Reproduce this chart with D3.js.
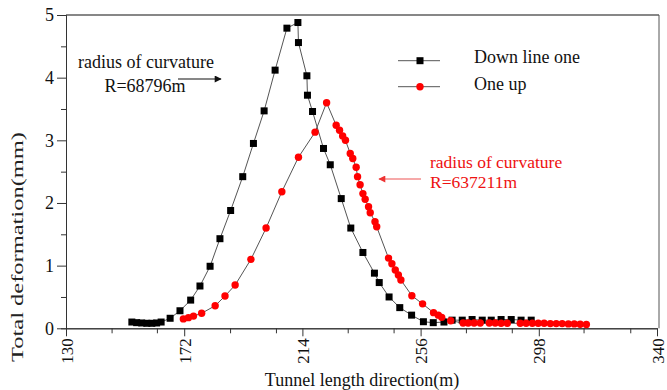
<!DOCTYPE html>
<html>
<head>
<meta charset="utf-8">
<script src="https://cdn.jsdelivr.net/npm/d3@7/dist/d3.min.js"></script>
<style>
  html, body { margin: 0; padding: 0; background: #fff; }
  svg { display: block; font-family: "Liberation Serif", "Times New Roman", serif; }
</style>
</head>
<body>
<svg id="chart" width="667" height="390"></svg>
<script>
// Tunnel length position (m) and total deformation (mm) for each survey line
const downX = [153.4,155.1,156.9,158.7,160.5,162.2,163.8,167.0,170.5,174.3,177.6,181.2,184.7,188.5,192.8,196.6,200.4,204.3,208.5,212.4,212.6,215.6,215.8,217.6,221.5,223.9,227.8,231.2,235.5,239.6,241.3,244.8,248.6,252.8,257.0,260.5,264.3,267.2,270.8,274.3,277.9,281.1,284.6,288.2,291.7,295.3];
const downY = [0.10,0.09,0.085,0.08,0.08,0.085,0.10,0.16,0.28,0.45,0.675,0.99,1.43,1.88,2.42,2.95,3.47,4.12,4.79,4.88,4.56,4.03,3.72,3.46,2.87,2.61,2.07,1.60,1.21,0.88,0.73,0.50,0.33,0.21,0.105,0.09,0.10,0.13,0.13,0.14,0.13,0.13,0.14,0.14,0.13,0.13];

const upX = [171.7,173.5,175.3,178.2,183.0,186.5,190.1,195.7,201.1,206.7,212.6,218.5,222.6,226.0,227.2,228.3,229.3,231.0,231.9,233.1,233.6,234.5,235.5,236.3,237.5,238.1,239.8,240.4,244.6,245.8,247.0,248.1,249.0,252.9,256.7,260.6,262.3,263.5,266.7,271.1,272.9,275.0,277.2,280.4,282.5,284.6,286.8,291.4,293.5,295.7,297.8,299.9,302.1,304.2,306.3,308.5,310.6,312.7,314.9];
const upY = [0.15,0.17,0.195,0.24,0.36,0.515,0.69,1.10,1.60,2.18,2.73,3.13,3.60,3.24,3.16,3.07,3.00,2.79,2.71,2.57,2.42,2.29,2.15,2.06,1.94,1.845,1.70,1.62,1.12,1.03,0.93,0.85,0.77,0.52,0.39,0.25,0.21,0.175,0.12,0.085,0.085,0.085,0.085,0.085,0.085,0.08,0.08,0.08,0.08,0.08,0.08,0.08,0.075,0.075,0.075,0.07,0.07,0.065,0.06];

const seriesNames = ["Down line one", "One up"];
const xTicks = [130, 172, 214, 256, 298, 340];
const xMinorTicks = [146.2, 162.3, 188.3, 204.6, 230.1, 246.4, 272.1, 288.4, 313.9, 330.5];
const yTicks = [0, 1, 2, 3, 4, 5];
const yMinorTicks = [0.5, 1.5, 2.5, 3.5, 4.5];
const notes = [
  { lines: ["radius of curvature", "R=68796m"], color: "#111" },
  { lines: ["radius of curvature", "R=637211m"], color: "#ee1111" }
];

const svg = d3.select("#chart");
const plotLeft = 66, plotRight = 657, plotTop = 15, plotBottom = 328.3;

const x = d3.scaleLinear().domain([130, 340]).range([plotLeft, plotRight]);
const y = d3.scaleLinear().domain([0, 5]).range([plotBottom, plotTop]);

const axisColor = "#333";

// frame: top and right edges
svg.append("line").attr("x1", plotLeft).attr("x2", plotRight + 2).attr("y1", plotTop).attr("y2", plotTop)
  .attr("stroke", "#111").attr("stroke-width", 1.2);
svg.append("line").attr("x1", plotRight + 2).attr("x2", plotRight + 2).attr("y1", plotTop).attr("y2", plotBottom)
  .attr("stroke", "#555").attr("stroke-width", 1);

// x axis
const gx = svg.append("g").attr("transform", `translate(0,${plotBottom})`);
gx.append("g").call(d3.axisBottom(x).tickValues(xMinorTicks).tickSize(5).tickFormat(""));
gx.append("g").call(d3.axisBottom(x).tickValues(xTicks).tickSize(8).tickSizeOuter(0).tickFormat(d3.format("d")));
gx.selectAll("path.domain").attr("stroke", axisColor);
gx.selectAll(".tick line").attr("stroke", axisColor);
gx.selectAll(".tick text")
  .attr("transform", "rotate(-90)")
  .attr("text-anchor", "end")
  .attr("x", -10)
  .attr("y", 0)
  .attr("dy", "0.36em")
  .attr("fill", "#111")
  .style("font-family", "Liberation Serif")
  .style("font-size", "17px");

// y axis
const gy = svg.append("g").attr("transform", `translate(${plotLeft},0)`);
gy.append("g").call(d3.axisLeft(y).tickValues(yMinorTicks).tickSize(5).tickFormat(""));
gy.append("g").call(d3.axisLeft(y).tickValues(yTicks).tickSize(9).tickSizeOuter(0).tickPadding(3).tickFormat(d3.format("d")));
gy.selectAll("path.domain").attr("stroke", axisColor);
gy.selectAll(".tick line").attr("stroke", axisColor);
gy.selectAll(".tick text")
  .attr("fill", "#111")
  .style("font-family", "Liberation Serif")
  .style("font-size", "18px");

// axis titles
svg.append("text")
  .attr("x", 362).attr("y", 386)
  .attr("text-anchor", "middle")
  .attr("fill", "#111")
  .style("font-size", "18px")
  .text("Tunnel length direction(m)");

svg.append("text")
  .attr("transform", "translate(23,247) rotate(-90)")
  .attr("text-anchor", "middle")
  .attr("textLength", 230)
  .attr("lengthAdjust", "spacingAndGlyphs")
  .attr("fill", "#222")
  .style("font-size", "16px")
  .text("Total deformation(mm)");

// series
const downData = downX.map((v, i) => [v, downY[i]]);
const upData = upX.map((v, i) => [v, upY[i]]);
const line = d3.line().x(d => x(d[0])).y(d => y(d[1]));

svg.append("path").datum(downData).attr("d", line)
  .attr("fill", "none").attr("stroke", "#555").attr("stroke-width", 1);
svg.append("path").datum(upData).attr("d", line)
  .attr("fill", "none").attr("stroke", "#555").attr("stroke-width", 1);

const sq = 7;
svg.append("g").selectAll("rect").data(downData).join("rect")
  .attr("x", d => x(d[0]) - sq / 2).attr("y", d => y(d[1]) - sq / 2)
  .attr("width", sq).attr("height", sq).attr("fill", "#000");

svg.append("g").selectAll("circle").data(upData).join("circle")
  .attr("cx", d => x(d[0])).attr("cy", d => y(d[1]))
  .attr("r", 3.7).attr("fill", "#ff0000");

// legend
const lg = svg.append("g");
[[60.7, "square"], [86.7, "circle"]].forEach(([ly, shape], i) => {
  lg.append("line").attr("x1", 398).attr("x2", 440).attr("y1", ly).attr("y2", ly)
    .attr("stroke", "#555").attr("stroke-width", 1);
  if (shape === "square") {
    lg.append("rect").attr("x", 416.5).attr("y", ly - 3.5).attr("width", 7).attr("height", 7).attr("fill", "#000");
  } else {
    lg.append("circle").attr("cx", 420).attr("cy", ly).attr("r", 3.7).attr("fill", "#ff0000");
  }
  lg.append("text").attr("x", 474).attr("y", i === 0 ? 63.3 : 90)
    .attr("fill", "#111").style("font-size", "18px").text(seriesNames[i]);
});

// curvature radius notes with arrows
const defs = svg.append("defs");
[["headBlack", "#111"], ["headRed", "#ee3333"]].forEach(([id, c]) => {
  defs.append("marker").attr("id", id).attr("viewBox", "0 0 10 10")
    .attr("refX", 9).attr("refY", 5).attr("markerWidth", 9).attr("markerHeight", 7)
    .attr("markerUnits", "userSpaceOnUse").attr("orient", "auto")
    .append("path").attr("d", "M0,0 L10,5 L0,10 z").attr("fill", c);
});

const n1 = svg.append("g");
n1.append("text").attr("x", 146).attr("y", 68).attr("text-anchor", "middle")
  .attr("fill", notes[0].color).style("font-size", "18px").text(notes[0].lines[0]);
n1.append("text").attr("x", 145).attr("y", 92).attr("text-anchor", "middle")
  .attr("fill", notes[0].color).style("font-size", "18px").text(notes[0].lines[1]);
n1.append("line").attr("x1", 178).attr("x2", 221).attr("y1", 79).attr("y2", 79)
  .attr("stroke", "#111").attr("stroke-width", 1.2).attr("marker-end", "url(#headBlack)");

const n2 = svg.append("g");
n2.append("text").attr("x", 430).attr("y", 168)
  .attr("fill", notes[1].color).style("font-size", "17.5px").text(notes[1].lines[0]);
n2.append("text").attr("x", 430).attr("y", 188)
  .attr("fill", notes[1].color).style("font-size", "17.5px").text(notes[1].lines[1]);
n2.append("line").attr("x1", 421).attr("x2", 379).attr("y1", 179).attr("y2", 179)
  .attr("stroke", "#ee5555").attr("stroke-width", 1.2).attr("marker-end", "url(#headRed)");
</script>
</body>
</html>
